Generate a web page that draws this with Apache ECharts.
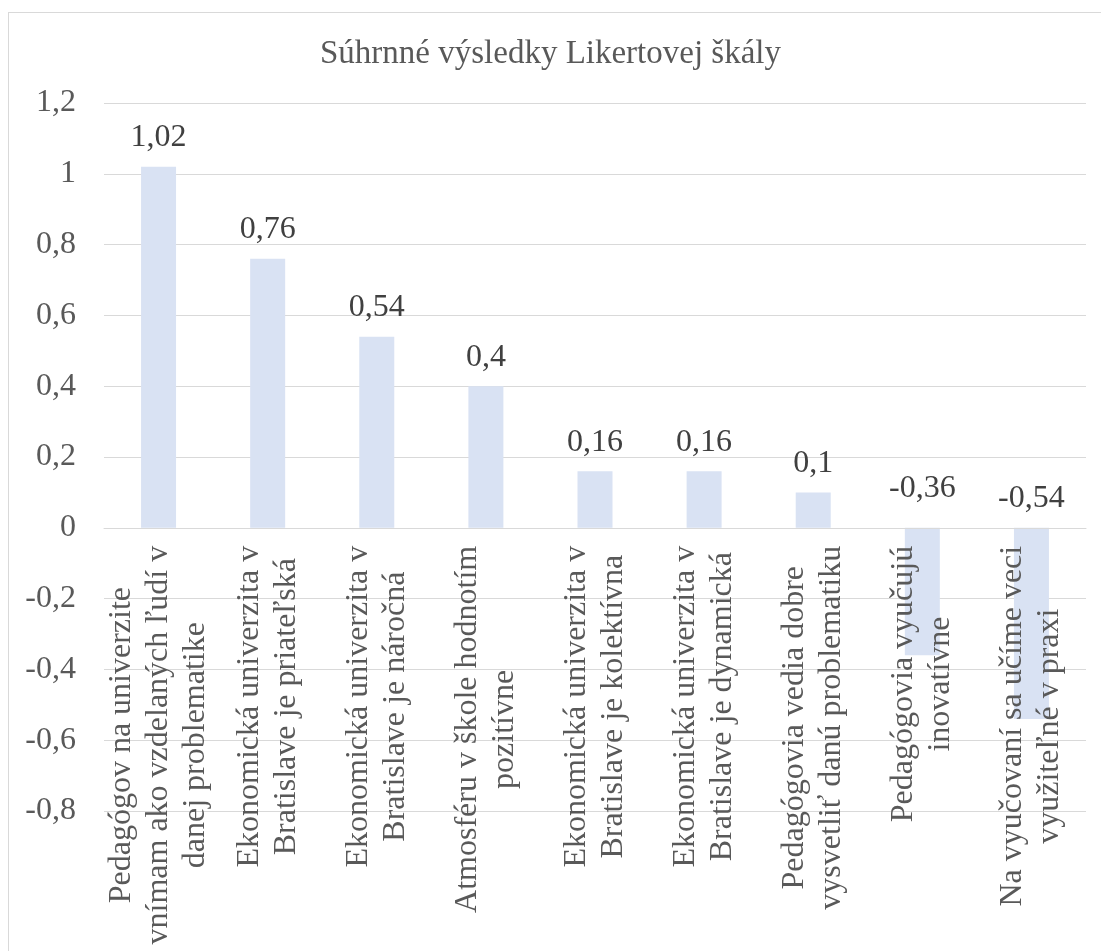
<!DOCTYPE html>
<html>
<head>
<meta charset="utf-8">
<script src="https://cdn.jsdelivr.net/npm/echarts@6/dist/echarts.min.js"></script>
<style>
html,body{margin:0;padding:0;background:#fff;}
#frame{position:absolute;left:8px;top:12px;width:1200px;height:1100px;border:1px solid #D9D9D9;box-sizing:border-box;}
#chart{position:absolute;left:0;top:0;width:1101px;height:951px;}
</style>
</head>
<body>
<div id="frame"></div>
<div id="chart"></div>
<script>
const title = 'Súhrnné výsledky Likertovej škály';
const categories = [
  'Pedagógov na univerzite\nvnímam ako vzdelaných ľudí v\ndanej problematike',
  'Ekonomická univerzita v\nBratislave je priateľská',
  'Ekonomická univerzita v\nBratislave je náročná',
  'Atmosféru v škole hodnotím\npozitívne',
  'Ekonomická univerzita v\nBratislave je kolektívna',
  'Ekonomická univerzita v\nBratislave je dynamická',
  'Pedagógovia vedia dobre\nvysvetliť danú problematiku',
  'Pedagógovia vyučujú\ninovatívne',
  'Na vyučovaní sa učíme veci\nvyužiteľné v praxi'
];
const values = [1.02, 0.76, 0.54, 0.4, 0.16, 0.16, 0.1, -0.36, -0.54];
const yMin = -0.8, yMax = 1.2, yStep = 0.2;

const FONT = '"Liberation Serif", "Times New Roman", serif';
const comma = v => String(Math.round(v * 100) / 100).replace('.', ',');

const W = 1101, H = 951;
const GRID = {left: 104, right: 15, top: 103, bottom: 140};
const plotH = H - GRID.top - GRID.bottom;
// move the category axis (line + labels) up to the value-axis zero
const zeroOffset = -plotH * (0 - yMin) / (yMax - yMin);

const chart = echarts.init(document.getElementById('chart'), null, {renderer: 'canvas'});
chart.setOption({
  animation: false,
  backgroundColor: 'transparent',
  title: {
    text: title,
    left: 'center',
    top: 33,
    textStyle: {fontFamily: FONT, fontSize: 33, fontWeight: 'normal', color: '#595959'}
  },
  grid: Object.assign({containLabel: false, outerBoundsMode: 'none'}, GRID),
  xAxis: {
    type: 'category',
    data: categories,
    z: 5,
    offset: zeroOffset,
    axisLine: {onZero: false, lineStyle: {color: '#D9D9D9', width: 1}},
    axisTick: {show: false},
    axisLabel: {
      interval: 0,
      rotate: 90,
      margin: 18,
      fontFamily: FONT,
      fontSize: 32,
      color: '#595959',
      lineHeight: 37,
      formatter: v => v.split('\n').map(s => '{c|' + s + '}').join('\n'),
      rich: {c: {align: 'center', fontFamily: FONT, fontSize: 32, color: '#595959', lineHeight: 37}}
    }
  },
  yAxis: {
    type: 'value',
    min: yMin, max: yMax, interval: yStep,
    axisLine: {show: false},
    axisTick: {show: false},
    splitLine: {lineStyle: {color: '#D9D9D9', width: 1}},
    axisLabel: {
      margin: 28,
      fontFamily: FONT,
      fontSize: 32,
      color: '#595959',
      formatter: v => comma(v)
    }
  },
  series: [{
    type: 'bar',
    barWidth: 35,
    itemStyle: {color: '#D9E2F3'},
    data: values.map((v, i) => ({
      value: v,
      label: i === 7 ? {offset: [0, -10]} : undefined
    })),
    label: {
      show: true,
      position: 'top',
      distance: 13,
      fontFamily: FONT,
      fontSize: 32,
      color: '#404040',
      formatter: p => comma(p.value)
    }
  }]
});
</script>
</body>
</html>
